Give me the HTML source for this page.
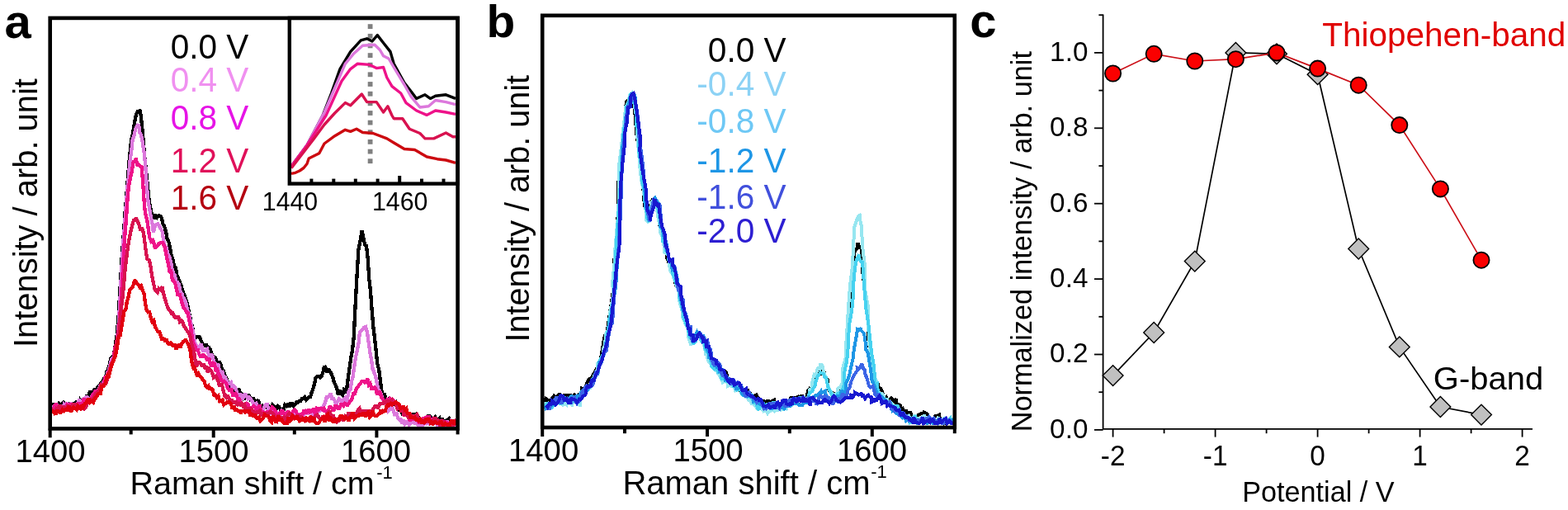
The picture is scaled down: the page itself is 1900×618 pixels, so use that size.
<!DOCTYPE html>
<html lang="en">
<head>
<meta charset="utf-8">
<title>Raman spectra figure</title>
<style>
html,body{margin:0;padding:0;background:#fff;}
body{width:1900px;height:618px;overflow:hidden;}
svg{display:block;font-family:'Liberation Sans', Arial, Helvetica, sans-serif;}
</style>
</head>
<body>
<svg width="1900" height="618" viewBox="0 0 1900 618">
<rect x="0" y="0" width="1900" height="618" fill="#ffffff"/>
<clipPath id="clipA"><rect x="60.7" y="21.9" width="493.90000000000003" height="497.5"/></clipPath>
<g clip-path="url(#clipA)" fill="none" stroke-linejoin="miter" stroke-miterlimit="2" stroke-width="4.3" shape-rendering="crispEdges">
<path d="M59.8 491.4L61.5 490.5L63.2 492.0L64.9 489.0L66.6 493.5L68.8 491.9L70.0 493.5L71.7 489.0L73.4 490.5L75.1 489.0L76.8 487.5L78.8 490.4L80.2 496.5L81.9 487.5L83.6 492.0L85.3 490.5L87.0 489.0L88.8 488.9L90.4 489.0L92.1 487.5L93.8 489.0L95.5 489.0L97.2 484.5L98.8 486.4L100.6 490.5L102.3 490.5L104.0 486.0L105.7 478.5L106.8 481.4L109.1 474.0L110.8 480.0L112.5 475.5L114.2 472.5L116.8 472.1L119.3 468.0L121.0 466.5L122.7 463.5L124.8 461.8L126.1 459.0L127.8 459.0L129.5 450.0L130.8 448.9L132.9 441.0L134.6 433.5L136.8 433.0L138.0 429.0L139.7 418.5L141.8 405.0L143.8 380.0L144.8 361.5L146.5 333.0L147.8 310.0L149.9 282.0L151.6 256.5L152.8 243.0L155.0 214.5L156.7 193.5L159.2 168.6L160.1 166.5L161.8 156.0L164.0 142.7L165.2 138.0L166.9 135.0L168.6 135.0L169.8 133.0L172.0 151.5L173.7 171.0L175.4 191.0L177.1 207.0L178.8 225.0L180.5 241.5L181.8 249.5L183.9 259.5L185.1 265.7L187.3 259.5L189.0 265.5L190.7 262.5L192.4 261.0L194.8 262.5L195.8 264.0L197.5 271.5L199.2 274.5L201.3 282.0L202.6 289.5L204.3 292.5L206.0 300.0L207.7 310.5L209.4 314.0L211.1 322.5L212.8 324.0L214.2 333.0L216.2 337.5L217.9 342.0L219.6 346.5L221.3 352.5L223.0 357.0L224.0 359.0L226.4 366.0L228.1 373.5L230.4 384.8L231.5 391.5L233.2 396.0L235.3 410.7L236.6 409.5L238.3 408.0L240.0 408.0L241.7 408.0L243.4 412.5L245.0 415.5L246.8 418.5L248.5 418.5L250.2 418.5L251.9 421.5L253.6 421.5L254.8 423.6L257.0 430.5L258.7 432.0L261.2 433.3L262.1 436.5L263.8 442.5L265.5 438.0L267.2 441.0L268.9 447.0L270.8 449.5L272.3 454.5L274.0 457.5L275.7 462.0L277.4 463.5L279.0 465.7L280.8 472.5L282.5 469.5L284.2 472.5L285.9 474.0L287.6 477.0L289.3 471.0L291.0 477.0L292.0 475.4L294.4 481.5L296.1 484.5L297.8 478.5L299.5 481.5L301.2 478.5L302.9 481.5L304.6 486.0L306.3 481.5L308.2 485.0L308.8 489.4L309.7 486.0L311.4 486.0L313.1 484.5L314.8 493.5L316.5 495.0L318.2 492.0L319.9 493.5L321.6 493.5L323.3 493.5L325.0 492.0L326.7 493.5L328.4 493.5L330.1 490.5L331.8 492.0L334.1 493.6L335.2 495.0L336.9 492.0L338.6 493.5L340.3 496.5L342.0 498.0L343.7 496.5L345.4 490.5L347.1 492.0L348.8 489.0L350.8 493.6L352.2 489.0L353.9 489.0L355.6 492.0L357.3 490.5L359.3 487.3L360.7 487.5L362.4 486.0L364.1 486.0L365.8 483.0L367.5 483.0L369.2 481.5L370.9 484.5L372.6 483.0L374.3 481.5L376.1 481.0L377.7 475.5L379.4 471.0L381.1 465.0L382.5 457.8L384.5 456.0L386.2 456.0L387.9 457.5L389.6 456.0L391.3 451.5L393.0 444.0L394.2 445.2L396.4 451.5L398.1 447.0L399.8 450.0L401.5 453.0L403.5 457.8L404.9 463.5L406.6 466.5L408.3 471.0L409.8 478.9L411.7 472.5L413.4 477.0L415.1 478.5L416.8 472.5L418.5 474.0L420.3 470.4L421.9 457.5L423.6 445.5L425.3 433.5L427.0 424.5L428.8 407.3L430.4 373.5L432.1 342.0L434.4 302.0L435.5 297.0L437.2 288.0L438.6 279.8L440.6 289.5L442.3 297.0L444.0 297.9L445.7 313.5L447.4 339.0L449.1 354.0L450.8 377.8L452.5 397.5L454.2 411.0L455.9 427.5L457.4 441.0L459.3 448.5L461.0 462.0L462.7 475.5L463.8 478.9L466.1 478.5L467.8 484.5L469.5 484.5L471.2 483.0L472.9 484.5L474.6 487.5L477.2 489.4L479.7 487.5L481.4 495.0L483.1 496.5L484.8 496.5L486.5 499.5L488.2 502.5L489.9 498.0L491.6 502.5L494.0 502.0L495.0 502.5L496.7 504.0L498.4 504.0L500.1 501.0L501.8 504.0L503.5 502.5L505.2 508.5L506.9 505.5L508.6 508.5L510.8 508.3L512.0 513.0L513.7 513.0L515.4 508.5L517.1 508.5L518.8 504.0L520.5 504.0L522.2 505.5L523.9 513.0L525.6 507.0L527.3 505.5L529.0 510.0L530.7 508.5L532.4 507.0L534.1 514.5L535.8 507.0L537.5 511.5L539.2 510.0L540.9 510.0L542.6 508.5L544.3 507.0L546.0 510.0L547.7 513.0L549.4 513.0L551.1 514.5L552.8 512.5" stroke="#000000"/>
<path d="M60.6 493.4L62.3 493.5L64.0 498.0L65.7 495.0L67.4 493.5L69.6 493.9L70.8 492.0L72.5 493.5L74.2 493.5L75.9 496.5L77.6 490.5L79.6 492.4L81.0 487.5L82.7 493.5L84.4 493.5L86.1 487.5L87.8 495.0L89.6 490.9L91.2 493.5L92.9 492.0L94.6 487.5L96.3 484.5L98.0 487.5L99.6 488.4L101.4 483.0L103.1 483.0L104.8 480.0L106.5 483.0L107.6 483.4L109.9 484.5L111.6 480.0L113.3 480.0L115.0 477.0L117.6 473.7L120.1 471.0L121.8 466.5L123.5 469.5L125.6 463.0L126.9 465.0L128.6 459.0L130.3 451.5L131.6 449.5L133.7 441.0L135.4 435.0L137.6 433.0L138.8 426.0L140.5 420.0L142.6 405.0L143.9 390.0L145.6 360.0L147.3 327.0L149.6 290.0L150.7 277.5L152.4 253.5L154.6 225.0L155.8 214.5L157.5 195.0L159.2 183.0L160.6 170.0L162.6 163.5L164.3 156.0L166.0 153.0L168.1 150.8L169.4 160.5L171.1 163.5L172.8 172.5L174.6 184.8L176.2 199.5L177.9 226.5L179.4 243.0L181.3 253.5L183.0 264.0L184.7 271.5L185.9 282.0L188.1 273.0L189.1 272.0L191.5 271.5L193.2 274.5L195.6 278.7L196.6 280.5L198.3 292.5L200.0 298.5L201.7 300.0L203.6 308.0L205.1 310.5L206.8 316.5L208.5 325.5L210.2 331.5L211.6 333.0L213.6 342.0L215.3 342.0L217.0 345.0L218.7 354.0L220.4 355.5L221.6 360.0L223.8 363.0L225.5 367.5L227.2 376.5L228.9 379.5L230.6 388.0L232.3 394.5L234.0 402.0L235.7 414.0L237.6 418.0L239.1 420.0L240.8 423.0L242.5 418.5L244.2 418.5L245.9 426.0L247.6 424.0L249.3 424.5L251.0 423.0L252.7 429.0L254.4 433.5L256.1 429.0L257.6 432.0L259.5 439.5L261.2 441.0L262.9 442.5L264.6 442.5L265.6 447.0L268.0 453.0L269.7 451.5L271.4 457.5L273.1 457.5L275.6 463.0L276.5 465.0L278.2 465.0L279.9 463.5L281.6 471.0L283.3 468.0L285.0 469.5L286.7 474.0L288.4 480.0L289.6 478.0L291.8 478.5L293.5 484.5L295.2 480.0L296.9 477.0L298.6 480.0L300.3 483.0L302.0 481.5L303.7 483.0L305.4 486.0L307.1 489.0L309.0 490.0L310.5 489.0L312.2 495.0L313.9 498.0L315.6 496.5L317.3 496.5L319.0 496.5L320.7 492.0L322.4 490.5L324.1 490.5L325.8 499.5L327.5 501.0L329.6 499.0L330.9 496.5L332.6 499.5L334.3 499.5L336.0 502.5L337.7 499.5L339.4 504.0L341.1 498.0L342.8 499.5L344.5 502.5L346.2 505.5L347.9 504.0L349.6 504.0L351.6 501.5L353.0 507.0L354.7 501.0L356.4 502.5L358.1 505.5L359.8 505.5L361.5 501.0L363.2 504.0L364.9 504.0L366.6 502.5L368.3 502.5L370.0 499.5L371.7 501.0L373.4 501.0L375.1 496.5L376.8 499.5L378.5 504.0L380.2 504.0L381.9 502.5L383.6 499.5L384.6 499.0L387.0 498.0L388.7 495.0L390.4 496.5L391.6 492.0L393.8 489.0L395.5 481.5L397.2 481.5L399.2 478.9L400.6 477.0L402.3 483.0L404.0 483.0L405.7 486.0L407.4 490.5L408.6 487.3L410.8 483.0L412.5 484.5L414.2 487.5L415.9 484.5L417.6 483.0L419.0 487.3L421.0 483.0L422.7 474.0L424.4 472.5L426.1 462.0L427.4 457.8L429.5 442.5L431.2 432.0L432.9 424.5L434.6 415.5L435.9 403.0L438.0 400.5L439.7 399.0L440.9 396.8L443.1 396.0L445.1 403.0L446.5 414.0L448.2 426.0L449.9 435.0L451.6 447.0L452.7 449.4L455.0 456.0L456.7 463.5L459.0 474.6L460.1 474.0L461.8 477.0L463.5 483.0L465.2 486.0L467.4 489.4L468.6 493.5L470.3 498.0L472.0 496.5L473.7 493.5L475.4 493.5L478.0 502.0L480.5 501.0L482.2 507.0L483.9 508.5L485.6 508.5L487.3 513.0L489.0 508.5L490.6 514.0L492.4 513.0L494.1 510.0L495.8 514.5L497.5 513.0L499.2 510.0L500.9 508.5L502.6 513.0L504.3 513.0L506.0 514.5L507.7 514.5L509.4 514.5L511.1 514.5L512.8 514.5L514.5 511.5L516.2 513.0L517.9 510.0L519.6 513.0L521.3 511.5L523.0 514.5L524.7 510.0L526.4 510.0L528.1 510.0L529.8 514.5L531.5 513.0L533.2 514.5L534.9 514.5L536.6 513.0L538.3 514.5L540.0 514.5L541.7 510.0L543.4 514.5L545.1 514.5L546.8 510.0L548.5 511.5L550.2 513.0L551.9 514.5L553.6 512.5" stroke="#dc78dc"/>
<path d="M61.0 494.6L62.7 496.5L64.4 496.5L66.1 492.0L67.8 489.0L70.0 495.1L71.2 492.0L72.9 496.5L74.6 496.5L76.3 496.5L78.0 495.0L80.0 493.6L81.4 490.5L83.1 492.0L84.8 489.0L86.5 495.0L88.2 489.0L90.0 492.1L91.6 489.0L93.3 492.0L95.0 489.0L96.7 489.0L98.4 493.5L100.0 489.6L101.8 483.0L103.5 489.0L105.2 487.5L106.9 483.0L108.0 484.6L110.3 487.5L112.0 478.5L113.7 477.0L115.4 474.0L118.0 474.7L120.5 471.0L122.2 466.5L123.9 468.0L126.0 463.8L127.3 456.0L129.0 459.0L130.7 453.0L132.0 449.9L134.1 444.0L135.8 439.5L138.0 433.0L139.2 421.5L140.9 417.0L143.0 405.0L144.3 396.0L146.0 373.5L147.0 360.0L149.4 316.5L151.0 290.0L152.8 267.0L155.0 235.0L156.2 225.0L157.9 216.0L159.6 208.5L162.0 194.5L163.0 196.5L164.7 192.0L166.4 199.5L168.1 199.5L169.8 201.0L171.7 202.6L173.2 222.0L175.0 249.5L176.6 261.0L178.3 267.0L180.0 279.0L181.4 288.4L183.4 292.5L185.1 291.0L186.8 295.5L188.0 301.0L190.2 298.5L192.8 295.0L195.3 294.0L197.0 294.0L199.2 298.0L200.4 303.0L202.5 314.0L203.8 319.5L205.5 328.5L207.2 328.5L208.9 339.0L210.0 340.0L212.3 343.5L214.0 351.0L215.7 358.5L217.4 355.5L220.0 365.0L222.5 373.5L224.2 375.0L225.9 378.0L227.6 379.5L230.0 392.0L231.0 396.0L232.7 408.0L234.4 415.5L236.1 418.5L238.0 425.0L239.5 423.0L241.2 429.0L242.9 432.0L244.6 432.0L246.3 429.0L248.0 432.0L249.7 433.5L251.4 436.5L253.1 433.5L254.8 441.0L256.5 444.0L258.0 440.0L259.9 441.0L261.6 450.0L263.3 448.5L265.0 456.0L266.0 455.0L268.4 460.5L270.1 463.5L271.8 462.0L273.5 463.5L276.0 470.0L276.9 471.0L278.6 474.0L280.3 471.0L282.0 478.5L283.7 478.5L285.4 477.0L287.1 480.0L288.8 486.0L290.0 484.0L292.2 487.5L293.9 490.5L295.6 492.0L297.3 492.0L299.0 489.0L300.7 490.5L302.4 495.0L304.1 495.0L305.8 493.5L307.5 492.0L309.4 494.0L310.9 496.5L312.6 495.0L314.3 490.5L316.0 496.5L317.7 499.5L319.4 499.5L321.1 501.0L322.8 501.0L324.5 498.0L326.2 501.0L327.9 498.0L329.6 493.5L331.3 495.0L333.0 496.5L334.7 502.5L336.4 502.5L338.1 501.0L339.8 501.0L341.5 496.5L343.2 499.5L344.9 502.5L346.6 501.0L348.3 499.5L350.0 499.5L352.0 502.0L353.4 502.5L355.1 498.0L356.8 496.5L358.5 498.0L360.2 502.5L361.9 504.0L363.6 502.5L365.3 505.5L367.0 501.0L368.7 496.5L370.4 499.5L372.1 499.5L373.8 496.5L375.5 499.5L377.2 498.0L378.9 496.5L380.6 496.5L382.3 502.5L384.0 495.0L385.7 496.5L387.4 495.0L389.1 495.0L390.8 496.5L392.5 495.0L394.0 497.8L395.9 498.0L397.6 498.0L399.3 493.5L401.0 493.5L402.7 495.0L404.4 498.0L406.1 492.0L407.8 492.0L409.5 495.0L411.2 495.0L412.9 490.5L414.6 490.5L416.3 492.0L418.0 489.0L419.7 490.5L421.4 490.5L423.6 487.3L424.8 486.0L426.5 483.0L428.2 477.0L429.9 477.0L432.0 470.4L433.3 469.5L435.0 466.5L436.7 465.0L438.4 462.0L440.1 462.0L441.8 463.5L443.8 462.9L445.2 459.0L446.9 466.5L448.6 465.0L450.3 471.0L452.0 471.0L453.7 469.5L455.2 470.4L457.1 478.5L458.8 475.5L460.5 475.5L462.2 481.5L463.6 483.0L465.6 486.0L467.3 487.5L469.0 484.5L470.7 486.0L472.4 483.0L474.1 484.5L475.8 484.5L478.4 487.3L480.9 489.0L482.6 495.0L484.3 492.0L486.0 493.5L487.7 495.0L489.4 504.0L491.0 502.0L492.8 499.5L494.5 505.5L496.2 508.5L497.9 508.5L499.6 505.5L501.3 508.5L503.0 505.5L504.7 504.0L506.4 510.0L508.1 513.0L509.8 508.5L512.0 510.4L513.2 507.0L514.9 507.0L516.6 505.5L518.3 505.5L520.0 505.5L521.7 511.5L523.4 508.5L525.1 507.0L526.8 507.0L528.5 508.5L530.2 513.0L531.9 513.0L533.6 508.5L535.3 511.5L537.0 511.5L538.7 511.5L540.4 511.5L542.1 513.0L543.8 514.5L545.5 513.0L547.2 513.0L548.9 511.5L550.6 513.0L552.3 511.5L554.0 512.0" stroke="#ee1289"/>
<path d="M61.6 495.8L63.3 496.5L65.0 498.0L66.7 499.5L68.4 495.0L70.6 496.3L71.8 492.0L73.5 492.0L75.2 496.5L76.9 492.0L78.6 495.0L80.6 494.8L82.0 492.0L83.7 493.5L85.4 496.5L87.1 495.0L88.8 489.0L90.6 493.3L92.2 489.0L93.9 495.0L95.6 495.0L97.3 495.0L99.0 495.0L100.6 490.8L102.4 495.0L104.1 493.5L105.8 486.0L107.5 489.0L108.6 485.8L110.9 486.0L112.6 483.0L114.3 480.0L116.0 477.0L118.6 475.6L121.1 469.5L122.8 465.0L124.5 469.5L126.6 464.5L127.9 466.5L129.6 460.5L131.3 454.5L132.6 450.2L134.7 441.0L136.4 439.5L138.6 433.0L139.8 423.0L141.5 412.5L143.6 405.0L144.9 391.5L146.6 376.5L148.6 360.0L150.0 345.0L151.7 325.5L153.6 310.0L155.1 298.5L156.8 288.0L158.6 280.0L160.2 273.0L161.9 267.0L163.6 267.0L164.9 264.0L167.0 268.5L168.7 273.0L170.4 279.0L172.1 276.0L173.9 282.0L175.5 294.0L177.2 307.5L178.6 314.0L180.6 315.0L182.0 320.0L184.0 333.0L185.7 342.0L187.4 349.5L188.6 352.0L190.8 354.0L192.5 349.5L194.2 351.0L196.6 347.5L197.6 354.0L199.3 360.0L201.0 366.0L203.1 372.0L204.4 375.0L206.1 376.5L207.8 379.5L209.5 379.5L211.2 384.0L212.8 385.0L214.6 384.0L216.3 384.0L218.0 390.0L219.7 388.5L221.4 390.0L222.6 394.5L224.8 397.5L226.5 400.5L229.0 404.0L229.9 405.0L231.6 414.0L233.3 421.5L235.0 426.0L237.1 440.0L238.4 444.0L240.1 439.5L241.8 439.5L243.5 441.0L245.2 444.0L246.9 441.0L248.4 446.0L250.3 445.5L252.0 451.5L253.7 447.0L255.4 448.5L257.1 451.5L258.8 457.5L261.4 456.0L263.9 460.5L265.6 466.5L267.3 466.5L269.0 466.5L271.1 475.0L272.4 480.0L274.1 481.5L275.8 478.5L277.5 483.0L279.2 487.5L280.9 484.5L282.6 487.5L284.3 487.5L286.0 487.5L287.3 491.6L289.4 489.0L291.1 490.5L292.8 489.0L294.5 492.0L296.2 490.5L297.9 496.5L299.6 498.0L301.3 493.5L303.0 499.5L304.7 496.5L306.4 498.0L308.1 501.0L310.0 501.0L311.5 499.5L313.2 499.5L314.9 498.0L316.6 504.0L318.3 499.5L320.0 504.0L321.7 501.0L323.4 501.0L325.1 501.0L326.8 499.5L328.5 499.5L330.2 501.0L331.9 502.5L333.6 508.5L335.3 510.0L337.0 502.5L338.7 505.5L340.6 506.0L342.1 507.0L343.8 505.5L345.5 510.0L347.2 507.0L348.9 502.5L350.6 501.0L352.3 502.5L354.0 508.5L355.7 504.0L357.4 505.5L359.1 504.0L360.8 504.0L362.5 508.5L364.2 504.0L365.9 507.0L367.6 508.5L369.3 510.0L371.0 507.0L372.7 510.0L374.4 507.0L376.1 507.0L377.8 507.0L379.5 508.5L380.6 506.0L382.9 504.0L384.6 502.5L386.3 505.5L388.0 508.5L389.7 507.0L391.4 504.0L393.1 510.0L394.8 505.5L396.5 501.0L398.2 499.5L399.9 499.5L401.6 505.5L403.3 502.5L405.0 507.0L406.7 508.5L408.4 511.5L410.1 510.0L411.8 505.5L413.5 507.0L415.2 508.5L416.9 508.5L418.6 504.0L420.6 505.0L422.0 501.0L423.7 501.0L425.4 507.0L427.1 504.0L428.8 501.0L430.5 504.0L432.2 501.0L433.9 496.5L435.6 495.0L436.9 500.0L439.0 496.5L440.7 502.5L442.4 496.5L444.1 501.0L445.8 501.0L447.4 496.5L449.2 501.0L450.9 498.0L452.6 495.0L454.3 492.0L456.0 492.0L457.7 495.0L459.4 492.0L461.1 487.5L462.1 489.4L464.5 489.0L466.2 486.0L467.9 489.0L469.6 484.5L471.3 490.5L473.0 486.0L474.7 484.5L476.4 489.0L479.0 489.0L481.5 495.0L483.2 493.5L484.9 495.0L486.6 499.5L488.3 496.5L490.0 502.5L491.6 502.0L493.4 502.5L495.1 507.0L496.8 501.0L498.5 507.0L500.2 502.5L501.9 508.5L503.6 504.0L505.3 502.5L507.0 507.0L508.7 511.5L510.4 508.5L512.6 510.0L513.8 511.5L515.5 508.5L517.2 510.0L518.9 505.5L520.6 508.5L522.3 513.0L524.0 510.0L525.7 508.5L527.4 505.5L529.1 511.5L530.8 510.0L532.5 514.5L534.2 514.5L535.9 508.5L537.6 514.5L539.3 514.5L541.0 514.5L542.7 514.5L544.4 514.5L546.1 514.5L547.8 514.5L549.5 514.5L551.2 511.5L552.9 508.5L554.6 513.0" stroke="#d8124f"/>
<path d="M62.2 497.8L63.9 498.0L65.6 499.5L67.3 502.5L69.0 498.0L71.2 498.3L72.4 499.5L74.1 499.5L75.8 496.5L77.5 498.0L79.2 496.5L81.2 496.8L82.6 493.5L84.3 493.5L86.0 499.5L87.7 495.0L89.4 493.5L91.2 495.3L92.8 496.5L94.5 492.0L96.2 493.5L97.9 495.0L99.6 490.5L101.2 492.8L103.0 489.0L104.7 487.5L106.4 484.5L108.1 484.5L109.2 487.8L111.5 486.0L113.2 487.5L114.9 483.0L116.6 481.5L119.2 477.2L121.7 477.0L123.4 468.0L125.1 468.0L127.2 465.7L128.5 460.5L130.2 454.5L131.9 456.0L133.2 450.8L135.3 442.5L137.0 438.0L139.2 433.0L140.4 429.0L142.1 420.0L143.8 408.0L145.5 406.5L147.0 397.7L148.9 387.0L150.6 376.5L152.3 375.0L154.0 364.5L155.1 362.0L157.4 351.0L159.1 349.5L160.8 348.0L163.2 339.4L164.2 340.5L165.9 343.5L167.6 345.0L169.3 348.0L171.0 346.5L172.9 352.4L174.4 355.5L176.1 367.5L177.8 376.5L179.4 378.3L181.2 378.0L182.9 385.5L184.6 390.0L186.3 388.5L188.0 396.0L189.1 397.7L191.4 402.0L193.1 402.0L194.8 406.5L196.5 412.5L198.2 409.5L200.4 413.9L201.6 411.0L203.3 415.5L205.0 417.0L206.7 415.5L208.4 417.0L210.2 420.4L211.8 417.0L213.5 423.0L215.2 420.0L216.9 417.0L218.6 421.5L219.9 417.0L222.0 414.0L223.7 412.5L225.4 412.5L228.0 417.0L230.5 424.5L232.2 438.0L234.4 446.0L235.6 445.5L237.3 450.0L239.0 456.0L240.7 453.0L242.5 456.0L244.1 457.5L245.8 460.5L247.5 462.0L249.2 468.0L250.9 469.5L252.6 468.0L254.3 472.5L255.5 470.6L257.7 472.5L259.4 478.5L261.1 478.5L262.8 481.5L264.5 480.0L266.2 486.0L268.5 485.0L269.6 484.5L271.3 490.5L273.0 489.0L274.7 487.5L276.4 487.5L278.1 487.5L279.8 489.0L281.5 495.0L283.2 492.0L284.6 496.5L286.6 496.5L288.3 498.0L290.0 498.0L291.7 501.0L293.4 498.0L295.1 498.0L296.8 499.5L298.5 498.0L300.2 498.0L301.9 498.0L303.6 504.0L305.3 501.0L307.0 505.5L308.7 502.5L310.6 506.0L312.1 507.0L313.8 505.5L315.5 510.0L317.2 508.5L318.9 507.0L320.6 502.5L322.3 504.0L324.0 504.0L325.7 505.5L327.4 510.0L329.1 511.5L330.8 504.0L332.5 508.5L334.2 511.5L335.9 508.5L337.6 504.0L339.3 510.0L341.0 507.0L342.7 511.5L344.4 513.0L346.1 513.0L347.8 513.0L349.5 505.5L351.2 510.0L353.2 508.3L354.6 504.0L356.3 505.5L358.0 508.5L359.7 504.0L361.4 507.0L363.1 510.0L364.8 508.5L366.5 508.5L368.2 505.5L369.9 511.5L371.6 507.0L373.3 508.5L375.0 510.0L376.7 504.0L378.4 511.5L380.1 505.5L381.8 511.5L383.5 513.0L385.2 513.0L386.9 511.5L388.6 508.5L390.3 507.0L392.0 505.5L393.7 511.5L395.4 504.0L397.1 502.5L398.8 510.0L401.2 507.0L402.2 508.5L403.9 511.5L405.6 508.5L407.3 510.0L409.0 507.0L410.7 510.0L412.4 504.0L414.1 504.0L415.8 505.5L417.5 508.5L419.2 505.5L420.9 507.0L422.6 510.0L424.3 505.5L426.0 502.5L427.7 499.5L429.4 507.0L431.1 505.5L432.8 504.0L434.5 504.0L436.2 501.0L437.5 504.0L439.6 501.0L441.3 501.0L443.0 505.5L444.7 501.0L446.4 499.5L448.1 505.5L449.8 504.0L451.5 498.0L453.2 502.5L454.9 504.0L456.6 504.0L458.5 502.0L460.0 501.0L461.7 496.5L463.4 499.5L465.1 498.0L466.8 498.0L468.5 492.0L470.2 490.5L471.2 491.5L473.6 489.0L475.3 490.5L477.0 489.0L479.6 487.3L482.1 489.0L483.8 490.5L485.5 495.0L488.0 493.6L488.9 492.0L490.6 496.5L492.3 495.0L494.0 502.5L495.7 499.5L497.4 505.5L499.1 505.5L500.6 506.0L502.5 505.5L504.2 508.5L505.9 508.5L507.6 510.0L509.3 508.5L511.0 513.0L512.7 508.5L514.4 513.0L516.1 507.0L517.8 510.0L519.5 507.0L521.6 512.5L522.9 511.5L524.6 514.5L526.3 511.5L528.0 511.5L529.7 513.0L531.4 513.0L533.1 511.5L534.8 511.5L536.5 514.5L538.2 514.5L539.9 513.0L541.6 514.5L543.3 514.5L545.0 514.5L546.7 510.0L548.4 510.0L550.1 514.5L551.8 511.5L553.5 510.0L555.2 514.0" stroke="#e2000f"/>
</g>
<rect x="350.8" y="21.9" width="203.8" height="200.7" fill="#fff"/>
<clipPath id="clipI"><rect x="350.8" y="21.9" width="203.8" height="200.7"/></clipPath>
<g fill="#808080">
<rect x="445.7" y="29.2" width="5.8" height="5.8"/>
<rect x="445.7" y="40.9" width="5.8" height="5.8"/>
<rect x="445.7" y="52.5" width="5.8" height="5.8"/>
<rect x="445.7" y="64.2" width="5.8" height="5.8"/>
<rect x="445.7" y="75.8" width="5.8" height="5.8"/>
<rect x="445.7" y="87.4" width="5.8" height="5.8"/>
<rect x="445.7" y="99.1" width="5.8" height="5.8"/>
<rect x="445.7" y="110.8" width="5.8" height="5.8"/>
<rect x="445.7" y="122.4" width="5.8" height="5.8"/>
<rect x="445.7" y="134.1" width="5.8" height="5.8"/>
<rect x="445.7" y="145.7" width="5.8" height="5.8"/>
<rect x="445.7" y="157.3" width="5.8" height="5.8"/>
<rect x="445.7" y="169.0" width="5.8" height="5.8"/>
<rect x="445.7" y="180.7" width="5.8" height="5.8"/>
<rect x="445.7" y="192.3" width="5.8" height="5.8"/>
</g>
<g clip-path="url(#clipI)" fill="none" stroke-linejoin="round" stroke-width="3.4">
<path d="M353.0 201.5 L372.0 176.0 L391.0 140.0 L401.5 113.0 L412.0 83.6 L424.7 62.6 L437.3 48.9 L444.6 46.8 L451.0 50.0 L457.3 42.6 L464.6 52.0 L473.0 62.6 L477.2 77.3 L489.9 100.4 L498.3 111.0 L504.6 119.4 L515.0 114.8 L521.4 119.4 L527.7 116.2 L540.3 114.8 L552.0 119.4" stroke="#000000"/>
<path d="M353.0 201.5 L372.0 176.0 L393.0 136.0 L418.3 77.3 L428.9 64.7 L439.4 55.2 L454.0 54.2 L460.4 60.5 L464.6 67.8 L471.0 71.0 L477.2 81.5 L489.9 102.5 L498.3 117.3 L508.8 130.0 L519.3 128.8 L527.7 121.5 L540.3 123.6 L552.0 126.7" stroke="#dc78dc"/>
<path d="M353.0 201.5 L372.0 176.0 L395.0 140.0 L414.0 98.3 L424.7 83.6 L433.0 77.3 L447.8 78.4 L456.2 82.6 L464.6 81.5 L468.8 94.0 L475.0 104.7 L485.7 113.0 L492.0 124.6 L504.6 134.0 L517.0 139.4 L527.7 134.0 L540.3 136.0 L552.0 138.3" stroke="#ee1289"/>
<path d="M353.0 203.6 L380.5 167.9 L393.0 151.0 L405.7 137.0 L418.3 124.6 L424.7 127.8 L438.3 114.0 L444.6 123.6 L456.2 123.6 L464.6 136.0 L469.9 128.8 L475.0 140.0 L477.2 143.7 L487.8 143.7 L496.2 156.3 L508.8 161.5 L515.0 167.9 L525.6 167.9 L540.3 161.0 L548.8 165.8 L552.0 165.8" stroke="#d8124f"/>
<path d="M353.0 210.4 L358.0 209.3 L363.0 207.0 L368.0 203.5 L372.0 198.5 L374.2 192.0 L386.8 185.7 L393.0 174.0 L405.7 164.7 L418.3 157.3 L424.7 159.4 L432.0 156.3 L439.4 160.5 L452.0 161.5 L468.8 167.9 L477.2 173.0 L489.9 180.5 L502.5 181.5 L517.2 190.0 L529.8 192.7 L540.3 194.0 L552.0 197.3" stroke="#cc0a10"/>
</g>
<g stroke="#000" stroke-width="4" fill="none">
<line x1="377.4" y1="222.6" x2="377.4" y2="216.6"/>
<line x1="404.3" y1="222.6" x2="404.3" y2="216.6"/>
<line x1="430.8" y1="222.6" x2="430.8" y2="216.6"/>
<line x1="457.6" y1="222.6" x2="457.6" y2="216.6"/>
<line x1="511.0" y1="222.6" x2="511.0" y2="216.6"/>
<line x1="537.5" y1="222.6" x2="537.5" y2="216.6"/>
<line x1="484.2" y1="222.6" x2="484.2" y2="213"/>
<rect x="350.8" y="21.9" width="203.8" height="200.7" stroke-width="4.4"/>
<rect x="60.7" y="21.9" width="493.90000000000003" height="497.5" stroke-width="4.6"/>
<line x1="60.7" y1="519.4" x2="60.7" y2="530.3"/>
<line x1="258.7" y1="519.4" x2="258.7" y2="530.3"/>
<line x1="456.4" y1="519.4" x2="456.4" y2="530.3"/>
<line x1="158.7" y1="519.4" x2="158.7" y2="526.4"/>
<line x1="356.8" y1="519.4" x2="356.8" y2="526.4"/>
<line x1="554.6" y1="519.4" x2="554.6" y2="526.4"/>
</g>
<text transform="translate(61.0 560.2) scale(1 1.02)" font-size="38.3" fill="#000" text-anchor="middle">1400</text>
<text transform="translate(259.0 560.2) scale(1 1.02)" font-size="38.3" fill="#000" text-anchor="middle">1500</text>
<text transform="translate(455.5 560.2) scale(1 1.02)" font-size="38.3" fill="#000" text-anchor="middle">1600</text>
<text transform="translate(351.5 255.4) scale(1 1.02)" font-size="30.3" fill="#000" text-anchor="middle">1440</text>
<text transform="translate(484.7 255.4) scale(1 1.02)" font-size="30.3" fill="#000" text-anchor="middle">1460</text>
<text transform="translate(157.4 599.3) scale(1 1.0)" font-size="39.5" fill="#000">Raman shift / cm<tspan font-size="22" dy="-19.2" dx="2.5">-1</tspan></text>
<text transform="translate(45.4 421.0) rotate(-90) scale(1 1.04)" font-size="39.9" fill="#000">Intensity / arb. unit</text>
<text transform="translate(206.8 71.4) scale(1 1.03)" font-size="40.5" fill="#000000">0.0 V</text>
<text transform="translate(206.8 110.9) scale(1 1.03)" font-size="40.5" fill="#f090f0">0.4 V</text>
<text transform="translate(206.8 156.9) scale(1 1.03)" font-size="40.5" fill="#e614e6">0.8 V</text>
<text transform="translate(206.8 208.5) scale(1 1.03)" font-size="40.5" fill="#e0105a">1.2 V</text>
<text transform="translate(206.8 253.9) scale(1 1.03)" font-size="40.5" fill="#b40010">1.6 V</text>
<text transform="translate(5.5 45.6) scale(1 1.0)" font-size="58" fill="#000" font-weight="bold">a</text>
<clipPath id="clipB"><rect x="657.2" y="18.8" width="499.5999999999999" height="499.2"/></clipPath>
<g clip-path="url(#clipB)" fill="none" stroke-linejoin="miter" stroke-miterlimit="2" stroke-width="4.0" shape-rendering="crispEdges">
<path d="M657.9 489.1L660.5 484.5L661.2 483.0L663.8 484.5L665.1 490.5L668.1 492.0L667.6 484.5L671.1 480.0L673.0 483.0L674.1 487.5L673.8 481.8L677.8 477.0L679.4 481.5L680.9 483.0L683.1 483.0L683.9 478.5L686.4 478.5L686.7 484.5L688.4 478.5L691.3 478.5L693.0 480.0L694.2 480.0L696.1 478.5L698.4 481.5L699.7 481.8L701.9 477.0L702.5 481.5L705.3 477.0L705.4 471.0L708.1 472.5L710.2 471.0L710.2 467.8L712.1 462.0L714.3 459.0L716.5 460.5L717.6 456.0L719.3 453.0L721.4 449.8L722.7 447.0L725.2 441.0L726.5 439.5L728.6 430.5L729.6 424.8L731.6 412.5L732.9 406.5L735.2 405.0L737.0 393.0L739.1 378.0L740.8 367.5L743.2 350.8L744.3 334.5L744.1 315.0L747.5 298.0L748.7 256.5L749.3 220.5L752.5 195.9L754.2 174.0L755.9 160.5L758.0 144.0L758.3 128.8L759.4 123.0L762.7 120.0L763.0 117.0L764.9 113.0L766.5 117.0L768.2 128.8L769.8 141.0L771.2 162.0L774.2 183.0L777.0 206.5L777.4 219.0L779.3 228.0L780.9 248.5L782.7 253.5L784.1 258.0L784.5 266.3L786.7 256.5L789.1 244.5L790.9 241.6L792.2 241.5L795.2 247.5L795.0 245.3L796.8 259.5L799.3 273.3L802.2 277.5L801.8 282.0L804.5 297.0L806.6 301.7L808.0 304.5L808.5 313.5L811.0 319.5L812.7 322.5L814.8 330.0L816.2 333.2L817.4 339.0L818.7 345.0L821.9 346.5L823.5 354.0L824.1 361.3L826.4 372.0L829.2 376.5L830.6 386.1L832.1 394.5L833.8 396.0L834.5 403.7L836.1 403.5L838.8 410.8L839.4 406.5L842.9 406.5L842.7 408.0L846.0 401.9L846.8 403.5L848.4 405.0L849.7 406.5L853.6 410.8L853.6 418.5L855.0 418.5L857.7 420.0L859.9 432.1L862.9 438.0L864.7 439.5L866.6 441.0L866.8 444.0L870.3 441.0L870.7 446.4L873.4 450.0L873.2 453.0L876.1 448.5L877.0 448.5L880.1 451.5L881.8 459.0L883.7 462.0L886.1 460.6L886.7 459.0L887.2 465.0L889.9 469.5L891.0 469.5L892.3 471.0L895.2 468.0L896.6 472.5L897.1 472.5L899.1 472.5L901.3 472.5L902.3 474.8L904.0 478.5L907.1 474.0L909.5 477.0L910.2 480.0L910.7 481.5L913.2 481.8L914.3 480.0L916.3 478.5L918.6 483.0L919.1 489.0L920.8 484.5L923.5 487.5L924.9 484.5L925.6 490.4L927.7 487.5L929.8 486.0L932.0 486.0L934.2 487.5L935.3 486.0L938.3 484.5L938.0 490.5L940.9 492.0L943.3 492.0L945.1 487.8L945.5 489.0L947.7 487.5L950.2 486.0L950.6 486.0L952.5 487.5L953.8 484.5L955.2 487.5L957.2 487.5L958.4 481.5L961.4 481.5L961.2 482.8L964.5 487.5L965.9 481.5L968.9 480.0L968.6 483.0L970.8 480.0L972.9 480.0L975.0 484.5L976.1 486.0L977.9 481.5L978.8 474.0L982.0 469.5L982.1 471.0L985.5 468.0L985.3 463.5L989.2 456.0L990.0 450.0L992.0 453.0L994.1 453.0L994.4 446.0L997.5 451.5L999.1 452.0L1000.0 456.0L1002.8 460.5L1004.1 472.0L1006.3 475.5L1007.5 475.5L1011.4 477.0L1010.9 483.0L1012.6 483.0L1014.4 480.0L1016.0 472.5L1019.2 468.0L1021.2 465.0L1022.1 451.5L1024.3 444.0L1026.7 423.0L1028.0 415.6L1028.5 387.0L1031.3 366.0L1033.0 347.2L1035.1 327.0L1035.1 305.4L1038.2 301.5L1039.6 294.0L1041.2 301.5L1043.5 298.5L1043.8 303.5L1045.1 328.5L1047.4 347.2L1050.5 370.5L1051.6 390.0L1052.4 411.8L1054.1 426.0L1056.7 444.0L1059.2 457.4L1058.4 465.0L1060.9 463.5L1063.4 463.5L1065.2 471.1L1067.3 471.0L1069.0 474.0L1070.5 481.5L1070.7 483.0L1073.8 481.0L1075.3 487.5L1077.3 486.0L1079.4 483.0L1078.8 481.5L1082.2 484.5L1084.5 487.0L1086.2 483.0L1086.7 490.5L1088.8 493.5L1090.2 489.0L1092.0 498.0L1092.8 493.5L1095.4 498.0L1097.6 498.0L1097.3 501.6L1100.3 499.5L1101.4 499.5L1102.9 499.5L1106.1 505.5L1107.1 507.0L1109.9 508.5L1109.6 507.0L1111.4 505.5L1113.0 502.5L1116.6 501.0L1118.5 501.0L1119.3 499.5L1122.0 501.0L1122.8 501.0L1123.9 502.5L1125.7 506.5L1127.6 510.0L1129.9 507.0L1129.9 510.0L1132.3 505.5L1133.4 504.0L1135.4 504.0L1138.4 502.5L1138.8 511.5L1142.1 513.0L1142.0 511.5L1145.3 513.0L1145.1 510.0L1148.4 510.0L1150.4 508.5L1150.4 511.5L1154.1 511.5L1156.0 510.2" stroke="#000000"/>
<path d="M657.3 495.3L660.3 492.0L660.7 489.0L663.9 489.0L665.6 487.5L665.8 492.0L668.3 490.5L671.3 489.0L670.6 484.5L673.3 492.0L674.2 488.0L678.0 486.0L677.9 484.5L680.4 487.5L682.8 492.0L683.0 487.5L686.6 490.5L687.7 484.5L689.2 490.5L691.2 486.0L691.5 489.0L693.2 490.5L695.2 484.5L697.1 486.0L700.3 488.0L701.8 490.5L703.1 490.5L703.3 481.5L705.9 481.5L706.5 480.0L710.2 472.5L710.7 474.0L712.4 466.5L714.7 469.5L715.3 469.5L718.4 462.0L720.1 459.0L720.0 456.0L724.0 447.0L723.8 441.0L726.7 438.0L727.8 439.5L730.5 431.0L731.0 423.0L733.3 417.0L733.8 405.0L737.4 398.8L739.2 390.0L739.2 378.0L743.4 355.8L742.0 343.5L744.4 321.0L745.4 301.9L749.2 258.0L750.3 219.0L750.5 197.6L752.9 178.5L755.0 157.5L756.9 144.0L758.0 129.2L760.7 126.0L762.4 120.0L762.7 115.5L765.4 113.0L768.1 123.0L769.1 129.2L771.2 142.5L771.9 160.5L773.5 178.5L775.9 208.4L777.3 219.0L779.6 229.5L782.2 251.4L782.6 252.0L783.4 267.0L785.8 269.6L787.2 256.5L788.8 252.0L789.5 244.3L793.0 243.0L794.9 244.5L795.1 248.0L797.6 264.0L800.2 276.6L800.2 282.0L802.7 286.5L804.3 294.0L805.0 305.6L808.4 307.5L810.5 312.0L811.0 321.0L812.3 328.5L815.4 333.0L816.6 337.8L818.2 337.5L819.4 345.0L822.5 354.0L823.1 363.0L823.7 366.5L826.9 378.0L827.5 385.5L830.3 391.8L832.1 396.0L834.4 399.0L834.4 409.7L837.4 418.5L837.6 417.0L841.3 414.0L840.7 409.5L842.4 408.0L845.6 407.9L846.0 408.0L849.3 406.5L850.3 412.5L853.0 417.0L854.5 424.5L855.0 429.0L856.1 429.0L858.6 438.3L863.2 442.5L863.6 442.5L866.7 445.5L868.1 450.0L869.6 447.0L870.2 452.6L873.0 457.5L874.7 460.5L875.6 463.5L878.2 462.0L878.3 462.0L881.8 463.5L881.7 468.0L884.0 466.8L887.1 466.5L887.3 468.0L889.3 468.0L890.7 472.5L892.1 471.0L895.5 471.0L896.8 472.5L898.6 472.5L900.3 475.5L900.3 478.5L903.2 481.0L904.7 481.5L906.9 481.5L907.0 484.5L909.4 486.0L911.6 490.5L912.3 488.0L915.2 492.0L917.5 495.0L918.5 493.5L919.4 495.0L922.4 495.0L923.5 496.5L926.2 499.5L925.2 496.6L927.7 496.5L930.1 501.0L932.7 498.0L932.7 499.5L934.5 496.5L936.1 495.0L938.4 498.0L941.4 495.0L941.7 498.0L944.6 494.0L944.6 490.5L946.4 496.5L949.5 495.0L950.2 493.5L953.0 495.0L955.0 489.0L955.2 490.5L956.4 487.5L959.9 492.0L960.0 489.0L962.0 489.0L963.1 486.0L966.7 486.0L967.4 483.0L968.5 486.0L970.0 483.0L973.8 481.5L974.9 489.0L975.8 486.0L978.7 481.5L980.5 478.5L981.0 472.5L983.8 471.0L983.6 466.2L986.4 454.5L988.2 456.0L990.7 446.4L990.5 445.5L993.5 447.0L993.8 442.0L996.4 442.5L997.6 448.6L1000.3 456.0L1002.7 465.0L1004.7 470.6L1006.5 474.0L1009.6 478.5L1010.0 477.0L1011.9 482.8L1013.4 481.5L1015.4 471.0L1017.3 469.5L1018.5 469.5L1021.3 461.8L1021.4 445.5L1024.8 433.5L1024.9 421.5L1026.2 404.1L1028.0 372.0L1030.2 345.0L1032.8 324.2L1034.3 294.0L1035.2 275.3L1038.4 265.5L1040.0 262.0L1041.7 261.0L1042.3 267.0L1043.6 273.1L1045.7 304.5L1048.4 324.2L1048.4 352.5L1052.0 372.0L1052.4 399.6L1053.4 418.5L1055.0 430.5L1058.2 452.9L1059.3 456.0L1061.6 460.5L1062.5 471.0L1063.1 474.9L1065.4 480.0L1068.0 477.0L1068.6 477.0L1071.0 480.0L1072.7 487.0L1075.3 484.5L1077.6 490.5L1077.3 486.0L1081.0 489.0L1082.4 492.0L1083.1 493.0L1084.2 495.0L1087.4 496.5L1088.8 501.0L1091.2 502.5L1091.1 502.5L1092.3 499.5L1095.3 505.5L1097.7 505.5L1097.9 505.2L1099.2 507.0L1101.5 504.0L1104.0 508.5L1105.0 508.5L1106.7 505.5L1108.4 502.5L1111.2 510.0L1112.1 505.5L1113.1 510.0L1115.7 507.0L1118.2 505.5L1119.8 502.5L1120.4 508.5L1123.2 507.0L1123.3 510.0L1124.2 509.5L1127.2 510.0L1129.6 508.5L1129.9 507.0L1133.4 511.5L1134.3 513.0L1136.8 513.0L1137.1 507.0L1139.9 508.5L1141.6 508.5L1143.8 507.0L1144.6 508.5L1146.9 511.5L1147.1 511.5L1149.7 510.0L1152.0 507.0L1153.9 508.5L1156.3 511.4" stroke="#96e6f0"/>
<path d="M658.7 493.9L662.1 490.5L663.3 492.0L664.5 487.5L666.3 493.5L668.8 495.0L668.4 489.0L670.4 490.5L673.6 484.5L675.5 489.0L675.1 486.6L677.2 484.5L678.9 490.5L680.3 484.5L682.1 481.5L684.1 483.0L687.6 484.5L689.1 483.0L690.2 487.5L692.3 487.5L692.8 487.5L694.5 486.0L698.0 486.0L697.5 486.0L701.5 486.6L702.4 484.5L702.5 478.5L704.2 481.5L706.7 477.0L707.6 472.5L711.5 468.0L712.5 472.6L714.9 468.0L715.8 469.5L717.2 463.5L718.6 457.5L719.9 459.0L722.1 454.6L724.8 451.5L724.8 447.0L726.2 438.0L730.2 430.5L732.1 429.6L732.1 426.0L735.2 420.0L734.9 408.0L737.3 397.5L738.3 385.5L742.2 375.0L744.1 354.7L744.4 342.0L745.8 325.5L746.6 301.0L748.7 267.0L752.1 220.5L752.8 197.2L754.3 178.5L755.9 156.0L759.2 145.5L759.3 129.1L762.4 123.0L763.9 115.5L764.9 112.5L764.9 113.0L768.2 124.5L771.0 129.1L770.6 150.0L774.5 166.5L774.0 183.0L778.5 208.0L777.8 220.5L780.6 229.5L781.8 250.7L783.8 259.5L784.1 264.0L786.8 268.8L787.6 253.5L791.3 250.5L791.3 243.7L793.7 246.0L794.9 243.0L796.2 247.4L798.5 258.0L801.2 275.9L803.3 280.5L803.3 292.5L805.8 294.0L807.5 304.7L809.1 306.0L810.6 316.5L813.4 318.0L815.3 322.5L814.6 330.0L817.4 336.8L819.0 343.5L822.0 345.0L822.9 355.5L823.3 361.5L824.9 365.3L827.7 378.0L828.2 384.0L830.7 390.5L833.7 397.5L835.0 406.5L835.6 408.4L837.5 409.5L840.1 415.6L841.6 415.5L843.4 412.5L843.5 411.0L846.2 406.6L848.4 405.0L849.3 412.5L851.8 415.5L854.7 415.6L853.9 421.5L856.2 426.0L858.7 429.0L861.2 436.9L862.4 444.0L865.6 447.0L867.4 445.5L867.7 442.5L870.5 453.0L870.7 451.2L873.7 451.5L874.5 459.0L876.9 459.0L879.8 459.0L881.2 456.0L881.5 463.5L884.4 460.5L885.5 465.4L887.3 463.5L888.6 468.0L889.6 468.0L891.6 466.5L893.1 472.5L895.6 471.0L896.8 471.0L898.5 477.0L899.8 478.5L903.0 478.5L903.0 479.6L905.4 477.0L906.6 480.0L909.3 481.5L911.4 480.0L913.2 489.0L915.2 486.6L917.2 492.0L918.4 495.0L920.1 496.5L920.3 490.5L923.4 492.0L924.3 490.5L925.2 490.5L928.2 495.2L928.9 489.0L932.5 492.0L932.0 490.5L934.4 489.0L936.9 487.5L937.5 487.5L939.3 487.5L940.8 487.5L942.7 487.5L945.1 492.6L945.5 489.0L949.2 495.0L950.6 496.5L951.4 492.0L953.4 487.5L956.3 489.0L957.4 486.0L959.0 490.5L959.2 490.5L962.0 484.5L964.5 487.6L964.7 490.5L967.8 484.5L969.8 481.5L970.7 481.5L971.2 487.5L974.2 483.0L974.4 487.5L978.1 486.0L978.7 486.0L981.0 475.5L982.2 475.5L984.3 474.0L985.5 470.7L988.2 466.5L988.1 463.5L990.8 455.4L991.9 454.5L994.1 451.5L994.5 452.0L997.6 453.0L999.5 457.1L1001.2 457.5L1003.4 469.5L1006.1 474.1L1007.1 477.0L1009.0 480.0L1011.9 480.0L1011.6 483.3L1015.3 477.0L1017.4 477.0L1017.6 475.5L1020.7 472.5L1022.9 466.4L1022.6 454.5L1025.7 439.5L1026.7 432.0L1027.7 420.6L1028.9 394.5L1032.2 376.5L1034.0 357.3L1034.6 337.5L1036.9 318.6L1038.0 315.0L1040.9 308.0L1040.7 312.0L1044.0 318.0L1045.0 316.8L1046.8 342.0L1047.9 357.3L1049.3 373.5L1052.4 393.0L1054.9 417.1L1056.3 429.0L1058.3 439.5L1060.4 459.4L1060.6 466.5L1063.1 465.0L1063.9 477.0L1065.7 477.1L1068.4 483.0L1068.2 484.5L1070.9 484.5L1073.0 483.0L1073.4 488.0L1076.5 487.5L1077.2 490.5L1079.8 490.5L1080.1 495.0L1082.5 490.5L1083.6 494.0L1085.2 492.0L1087.6 492.0L1089.8 496.5L1092.3 502.5L1092.4 501.0L1094.5 504.0L1097.3 504.0L1099.2 507.0L1100.0 505.8L1102.0 511.5L1103.5 510.0L1104.9 513.0L1106.8 507.0L1108.9 504.0L1109.6 507.0L1112.1 508.5L1112.9 510.0L1113.8 508.5L1115.6 508.5L1117.4 510.0L1120.8 507.0L1121.1 510.0L1124.6 505.5L1124.1 508.5L1127.2 510.0L1128.1 511.5L1130.0 510.0L1132.7 513.0L1134.0 508.5L1134.7 513.0L1137.3 508.5L1138.6 511.5L1140.7 511.5L1141.2 513.0L1143.1 510.0L1146.6 508.5L1148.1 511.5L1148.3 510.0L1151.4 507.0L1153.0 513.0L1154.7 510.0L1155.9 511.6" stroke="#46d2f0"/>
<path d="M660.7 492.6L661.6 495.0L664.7 493.5L664.7 495.0L667.5 492.0L670.0 489.0L670.5 489.0L672.6 492.0L673.5 486.0L674.6 486.0L677.4 485.3L679.9 484.5L680.9 489.0L681.6 487.5L685.4 481.5L685.2 481.5L688.2 487.5L688.9 483.0L690.5 481.5L692.8 480.0L694.1 481.5L695.2 481.5L698.7 480.0L699.6 486.0L700.9 485.3L702.5 478.5L704.1 475.5L705.6 474.0L707.9 477.0L709.4 474.0L712.1 472.5L711.4 471.3L714.5 466.5L715.6 466.5L717.0 466.5L719.8 460.5L722.5 454.5L722.3 453.3L725.3 448.5L725.7 439.5L729.0 438.0L729.9 433.5L731.4 428.3L734.6 424.5L734.0 415.5L737.6 405.0L738.2 396.3L740.8 382.5L741.5 373.5L745.0 353.6L746.2 346.5L747.8 321.0L749.6 300.2L750.7 264.0L753.0 225.0L753.9 196.9L754.6 174.0L757.5 156.0L758.3 142.5L761.5 129.0L763.4 118.5L764.3 121.5L766.2 121.5L768.0 113.0L770.2 120.0L770.2 129.0L771.4 141.0L775.0 165.0L775.1 180.0L779.0 207.6L780.3 217.5L781.7 235.5L782.4 250.1L785.4 252.0L785.8 264.0L786.8 268.2L789.6 253.5L790.6 247.5L791.7 243.1L793.7 240.0L795.5 243.0L798.0 246.8L800.1 262.5L800.3 275.2L802.8 277.5L804.3 286.5L807.4 294.0L808.3 303.9L809.5 306.0L811.0 315.0L812.6 315.0L814.7 327.0L817.9 325.5L820.3 335.8L820.9 339.0L821.3 342.0L823.6 354.0L825.0 363.0L825.4 364.3L828.0 378.0L831.3 381.0L832.5 389.3L834.4 394.5L835.8 405.0L837.4 407.1L839.6 415.5L840.2 414.3L842.9 408.0L843.3 405.0L844.9 402.0L847.6 405.3L848.9 403.5L849.8 411.0L852.6 408.0L855.8 414.3L854.9 418.5L858.8 427.5L859.4 433.5L862.1 435.6L865.6 442.5L866.1 442.5L867.9 442.5L869.0 445.5L872.2 447.0L872.0 449.9L875.5 448.5L877.1 451.5L878.9 459.0L879.0 460.5L882.2 459.0L883.3 457.5L885.8 465.0L886.0 464.1L887.8 460.5L889.4 465.0L892.0 471.0L894.1 471.0L895.4 469.5L896.2 469.5L899.1 469.5L899.0 477.0L900.7 478.5L903.1 477.0L904.5 478.3L906.6 481.5L908.0 478.5L909.1 477.0L912.6 481.5L913.1 486.0L914.4 485.3L916.7 487.5L919.9 484.5L919.6 490.5L922.9 487.5L923.4 489.0L925.2 489.0L926.8 493.5L927.4 493.9L930.9 493.5L933.3 492.0L934.5 496.5L935.0 493.5L937.0 493.5L939.3 489.0L941.2 489.0L941.4 493.5L943.6 493.5L946.9 491.3L947.3 495.0L949.0 493.5L950.3 495.0L951.8 492.0L955.1 490.5L956.8 493.5L957.7 490.5L960.0 489.0L961.8 489.0L964.0 489.0L965.3 486.3L966.1 489.0L967.8 490.5L970.7 490.5L972.5 490.5L973.2 489.0L975.2 484.5L976.3 489.0L979.0 486.0L979.3 489.0L980.8 481.5L984.2 483.0L985.8 480.0L985.7 481.5L989.1 478.5L990.7 478.5L992.1 477.0L992.4 477.0L994.9 474.0L995.7 476.0L999.9 474.0L1000.2 477.5L1002.6 481.5L1003.9 484.5L1005.4 482.5L1008.6 483.0L1010.3 481.5L1011.6 487.5L1013.0 484.5L1014.6 478.5L1017.5 483.0L1019.2 475.5L1020.8 474.0L1024.0 475.6L1024.9 471.0L1024.9 465.0L1028.3 457.5L1029.4 453.8L1030.7 447.0L1033.5 435.0L1034.8 423.5L1035.7 418.5L1038.2 405.0L1039.0 399.0L1041.2 400.0L1043.3 397.5L1043.5 400.5L1047.0 404.2L1048.4 412.5L1049.2 423.5L1051.7 427.5L1053.9 441.0L1055.5 452.1L1056.7 462.0L1057.4 462.0L1061.2 472.2L1062.7 477.0L1063.1 480.0L1064.8 477.0L1067.3 481.5L1067.2 480.0L1071.1 483.0L1072.6 489.0L1072.8 484.5L1075.3 490.0L1078.0 489.0L1078.6 487.5L1080.8 495.0L1081.5 498.0L1084.8 496.5L1085.2 496.0L1086.3 501.0L1089.4 502.5L1091.7 498.0L1091.3 504.0L1094.8 507.0L1094.5 505.5L1097.5 508.5L1098.0 510.0L1101.1 507.0L1101.6 510.0L1104.0 507.0L1107.0 507.0L1106.3 511.5L1108.3 510.0L1111.0 513.0L1113.6 513.0L1113.5 513.0L1116.7 507.0L1118.4 508.5L1119.2 508.5L1120.8 511.5L1122.6 511.5L1123.5 513.0L1126.4 511.5L1128.4 511.0L1130.7 510.0L1131.0 513.0L1132.7 513.0L1133.6 513.0L1136.1 513.0L1137.1 508.5L1139.2 508.5L1141.2 513.0L1142.7 513.0L1146.0 511.5L1147.6 513.0L1147.3 508.5L1149.6 513.0L1150.7 508.5L1152.9 508.5L1156.3 513.0L1158.1 512.0" stroke="#1e96e6"/>
<path d="M661.2 491.5L663.7 493.5L664.1 495.0L665.9 495.0L666.8 489.0L668.7 487.5L671.5 484.5L673.5 487.5L673.5 481.5L676.4 481.5L678.1 484.2L679.9 489.0L680.9 487.5L682.4 483.0L685.1 484.5L686.2 484.5L687.6 483.0L690.1 487.5L692.3 487.5L692.4 483.0L696.0 481.5L696.5 486.0L698.0 487.5L699.1 489.0L703.5 484.2L703.4 483.0L704.7 477.0L706.4 474.0L708.1 471.0L710.4 468.0L711.3 469.5L712.5 470.2L716.3 468.0L718.2 466.5L719.7 462.0L721.1 454.5L721.8 451.5L724.3 452.2L725.3 445.5L728.3 439.5L728.4 438.0L729.6 433.5L732.6 427.2L735.0 424.5L736.4 414.0L738.0 403.5L738.9 395.2L742.1 391.5L743.4 372.0L744.2 352.8L746.2 342.0L747.1 322.5L749.8 299.5L751.7 264.0L753.0 228.0L753.9 196.6L756.1 175.5L757.6 159.0L759.4 139.5L760.5 129.0L763.8 129.0L764.0 121.5L767.5 120.0L767.9 113.0L770.1 124.5L771.1 129.0L773.5 147.0L774.4 166.5L777.3 186.0L779.8 207.2L780.1 214.5L782.8 229.5L783.8 249.6L784.6 258.0L787.7 267.0L786.7 267.6L789.4 255.0L790.8 247.5L792.0 242.7L795.5 246.0L798.1 249.0L799.3 246.3L800.7 261.0L801.9 274.6L803.7 277.5L806.7 292.5L806.1 298.5L809.1 303.2L810.4 312.0L811.9 316.5L813.9 315.0L815.0 319.5L817.9 324.0L819.1 335.0L819.7 340.5L821.9 351.0L823.9 354.0L825.8 363.0L827.9 363.3L828.7 375.0L831.9 384.0L833.0 388.3L833.8 394.5L837.1 396.0L837.3 406.0L838.6 412.5L841.1 413.2L843.6 409.5L843.6 409.5L846.8 406.5L847.9 404.2L848.8 409.5L850.5 406.5L853.0 409.5L854.4 413.2L857.1 412.5L858.9 421.5L861.0 423.0L862.7 434.5L864.0 441.0L866.2 442.5L869.0 438.0L870.7 439.5L872.6 442.5L873.2 448.8L875.3 454.5L876.9 454.5L878.4 456.0L879.8 454.5L881.6 460.5L884.8 462.0L886.2 466.5L887.9 463.0L887.9 466.5L890.0 462.0L892.2 465.0L894.1 463.5L895.3 466.5L898.0 466.5L899.6 474.0L899.5 471.0L902.7 478.5L903.9 481.5L904.4 477.2L907.9 475.5L908.9 480.0L911.2 481.5L911.4 480.0L913.7 481.5L915.2 484.2L917.0 487.5L918.7 486.0L921.7 484.5L923.2 490.5L925.6 495.0L927.1 493.5L928.6 495.0L930.0 492.8L930.4 493.5L932.7 487.5L934.3 492.0L937.0 490.5L937.0 489.0L939.4 489.0L940.5 492.0L944.4 495.0L944.9 493.5L945.9 490.2L949.4 490.5L950.8 487.5L952.5 493.5L953.9 490.5L955.1 486.0L957.5 484.5L959.3 483.0L959.5 487.5L962.3 483.0L963.9 483.0L964.5 485.2L967.2 483.0L968.8 486.0L970.3 481.5L973.1 486.0L973.4 483.0L976.0 484.5L977.9 483.0L979.3 486.0L981.5 481.5L982.2 484.5L985.0 483.0L986.4 487.5L986.7 484.2L989.7 490.5L991.7 487.5L991.9 482.4L995.3 478.5L994.7 481.5L997.7 482.0L999.3 480.0L1001.0 482.6L1002.3 480.0L1005.0 484.5L1006.4 484.6L1009.2 490.5L1011.0 486.0L1012.9 483.0L1015.0 484.8L1016.0 489.0L1017.2 483.0L1019.3 483.0L1020.9 477.0L1024.0 480.2L1024.3 480.0L1026.4 478.5L1027.6 472.5L1029.3 470.3L1031.5 462.0L1033.0 459.0L1033.9 456.6L1037.9 450.0L1039.6 448.3L1038.9 445.5L1042.0 446.0L1044.3 441.0L1046.3 447.0L1047.6 447.9L1048.9 456.0L1049.9 456.6L1052.0 463.5L1053.0 468.0L1054.7 469.6L1057.4 468.0L1059.0 472.5L1060.5 478.7L1062.8 480.0L1064.8 477.0L1065.5 481.5L1067.4 482.9L1070.0 487.5L1069.8 486.0L1072.9 489.0L1073.2 486.0L1074.9 490.0L1078.0 487.5L1079.8 495.0L1081.7 495.0L1081.8 493.5L1083.9 498.0L1086.0 496.0L1087.0 498.0L1089.2 496.5L1089.9 502.5L1092.1 502.5L1095.3 499.5L1095.5 502.5L1098.5 504.0L1099.9 507.0L1102.0 507.0L1102.0 510.0L1104.9 510.0L1106.1 510.0L1109.1 508.5L1110.7 508.5L1110.8 511.5L1112.9 510.0L1114.3 513.0L1117.4 505.5L1118.1 507.0L1120.5 510.0L1122.8 505.5L1124.2 508.5L1125.9 505.5L1127.3 507.0L1128.9 511.0L1129.8 508.5L1131.6 507.0L1133.9 510.0L1136.2 513.0L1138.2 510.0L1139.0 511.5L1141.4 513.0L1143.1 513.0L1143.7 513.0L1145.8 510.0L1147.6 513.0L1147.9 508.5L1151.3 511.5L1152.8 513.0L1153.8 513.0L1156.2 511.5L1159.0 512.0" stroke="#3c64e6"/>
<path d="M661.6 491.1L663.6 493.5L665.5 489.0L666.7 489.0L668.8 490.5L669.2 486.0L671.4 487.5L672.6 489.0L673.4 490.5L676.0 487.5L677.8 483.8L679.1 478.5L680.6 480.0L682.1 480.0L683.8 486.0L685.5 481.5L688.3 487.5L691.0 487.5L691.3 484.5L692.7 483.0L696.1 484.5L697.3 484.5L699.2 487.5L700.2 486.0L702.0 483.8L703.4 484.5L704.6 483.0L706.2 480.0L709.4 478.5L710.7 469.5L713.1 466.5L712.1 469.8L715.7 468.0L717.0 459.0L718.0 462.0L720.0 460.5L721.9 454.5L723.4 451.8L725.9 445.5L726.5 442.5L728.5 438.0L729.7 436.5L731.6 426.8L733.7 421.5L736.2 412.5L736.3 408.0L740.1 394.9L741.4 382.5L742.3 373.5L744.2 352.4L745.4 340.5L747.2 322.5L750.5 299.3L751.0 258.0L752.0 225.0L754.5 196.5L756.9 175.5L756.9 162.0L759.7 148.5L761.4 128.9L763.6 130.5L763.8 118.5L765.8 114.0L767.6 113.0L769.6 121.5L770.9 128.9L773.1 145.5L775.8 165.0L775.4 183.0L778.6 207.1L780.2 216.0L782.4 226.5L783.9 249.5L784.0 253.5L788.0 261.0L787.5 267.4L790.1 256.5L792.7 249.0L792.8 242.5L794.1 243.0L796.1 247.5L797.6 246.2L800.3 264.0L802.2 274.4L803.4 277.5L806.1 285.0L806.5 295.5L808.9 302.9L810.2 310.5L811.3 316.5L814.7 315.0L814.6 321.0L817.2 324.0L819.5 334.7L819.8 342.0L822.1 345.0L825.3 348.0L825.2 355.5L826.0 363.0L828.5 373.5L830.1 381.0L832.3 387.9L833.7 397.5L835.5 397.5L836.4 405.6L840.5 406.5L840.2 412.8L842.4 412.5L844.7 409.5L845.2 406.5L847.9 403.8L850.8 409.5L852.3 408.0L852.3 414.0L856.4 412.8L855.8 420.0L859.1 420.0L859.2 421.5L862.0 434.1L864.1 435.0L867.9 436.5L868.3 441.0L871.3 442.5L871.8 447.0L873.8 448.4L876.2 448.5L877.1 448.5L878.9 454.5L881.5 460.5L881.0 460.5L883.7 463.5L884.9 460.5L886.8 462.6L888.2 459.0L889.6 466.5L892.4 465.0L894.6 463.5L895.5 463.5L896.2 465.0L899.1 472.5L900.3 472.5L901.4 472.5L904.1 471.0L904.7 476.8L907.5 478.5L908.5 478.5L910.5 480.0L913.3 481.5L915.0 483.0L916.2 483.8L918.6 483.0L920.2 486.0L921.5 483.0L923.6 487.5L925.2 492.0L927.2 492.0L927.1 493.5L928.5 492.4L930.8 490.5L933.3 495.0L934.1 493.5L937.2 492.0L938.0 493.5L939.3 493.5L942.1 487.5L942.0 486.0L944.9 492.0L946.6 489.8L948.4 484.5L950.9 487.5L951.8 483.0L952.6 489.0L956.1 490.5L957.3 489.0L959.7 490.5L959.6 486.0L961.6 483.0L964.7 486.0L965.3 484.8L965.9 487.5L967.5 481.5L971.2 487.5L973.0 483.0L973.6 481.5L976.7 484.5L976.0 486.0L979.9 486.0L981.8 492.0L981.4 483.0L984.0 481.5L984.8 481.5L988.0 486.0L988.5 484.5L991.3 489.0L992.0 486.0L993.1 487.5L996.7 487.5L997.5 486.0L999.9 483.0L1000.0 486.0L1002.8 486.0L1005.0 489.0L1007.2 486.0L1009.2 481.5L1010.6 480.0L1013.0 483.0L1013.2 485.0L1015.5 486.0L1018.2 487.5L1020.2 486.0L1021.8 484.5L1023.1 483.3L1024.8 481.5L1025.8 481.5L1027.4 481.5L1030.1 481.5L1031.5 477.0L1032.1 483.0L1035.1 479.0L1035.8 475.5L1039.1 477.4L1040.3 478.5L1043.4 477.0L1043.6 477.0L1044.9 481.5L1045.4 477.4L1048.3 483.0L1051.2 479.0L1052.1 478.5L1052.8 480.0L1055.7 481.3L1055.9 487.5L1059.1 486.0L1060.2 483.0L1062.2 486.0L1063.3 483.0L1065.6 480.0L1068.0 485.4L1068.5 489.0L1071.2 487.5L1073.0 486.0L1073.6 486.0L1075.0 492.0L1077.5 490.5L1078.8 492.0L1079.7 492.0L1083.7 493.5L1085.3 495.0L1085.6 498.0L1086.7 496.5L1089.4 496.5L1092.1 504.0L1093.6 499.5L1095.4 504.0L1096.7 505.5L1097.9 505.5L1100.4 505.5L1101.6 508.2L1104.1 508.5L1103.9 510.0L1107.2 513.0L1107.3 505.5L1109.5 511.5L1110.3 511.5L1113.3 513.0L1115.7 511.5L1117.7 507.0L1118.2 505.5L1119.3 513.0L1121.5 511.5L1123.3 510.0L1126.1 511.5L1126.3 507.0L1128.9 512.0L1129.5 507.0L1132.6 513.0L1134.6 513.0L1134.3 511.5L1137.3 511.5L1138.7 507.0L1140.4 513.0L1143.3 508.5L1143.6 508.5L1146.0 507.0L1147.7 513.0L1149.7 511.5L1150.7 510.0L1153.3 513.0L1153.9 513.0L1156.0 513.0L1158.1 512.4" stroke="#1818d0"/>
</g>
<g stroke="#000" stroke-width="4" fill="none">
<rect x="657.2" y="18.8" width="499.5999999999999" height="499.2" stroke-width="4.6"/>
<line x1="657.2" y1="518.0" x2="657.2" y2="529"/>
<line x1="857.0" y1="518.0" x2="857.0" y2="529"/>
<line x1="1056.8" y1="518.0" x2="1056.8" y2="529"/>
<line x1="757.0" y1="518.0" x2="757.0" y2="525.2"/>
<line x1="956.8" y1="518.0" x2="956.8" y2="525.2"/>
<line x1="1156.8" y1="518.0" x2="1156.8" y2="525.2"/>
</g>
<text transform="translate(658.6 559.2) scale(1 1.02)" font-size="38.3" fill="#000" text-anchor="middle">1400</text>
<text transform="translate(858.0 559.2) scale(1 1.02)" font-size="38.3" fill="#000" text-anchor="middle">1500</text>
<text transform="translate(1056.5 559.2) scale(1 1.02)" font-size="38.3" fill="#000" text-anchor="middle">1600</text>
<text transform="translate(754.4 599.2) scale(1 1.0)" font-size="40.0" fill="#000">Raman shift / cm<tspan font-size="22" dy="-20" dx="0.7">-1</tspan></text>
<text transform="translate(641.3 414.4) rotate(-90) scale(1 1.04)" font-size="39.6" fill="#000">Intensity / arb. unit</text>
<text transform="translate(952.6 75.4) scale(1 1.03)" font-size="40.6" fill="#000000" text-anchor="end">0.0 V</text>
<text transform="translate(952.6 116.2) scale(1 1.03)" font-size="40.6" fill="#8cd2f5" text-anchor="end">-0.4 V</text>
<text transform="translate(952.6 160.8) scale(1 1.03)" font-size="40.6" fill="#6ec8f5" text-anchor="end">-0.8 V</text>
<text transform="translate(952.6 209.2) scale(1 1.03)" font-size="40.6" fill="#1e96e6" text-anchor="end">-1.2 V</text>
<text transform="translate(952.6 253.3) scale(1 1.03)" font-size="40.6" fill="#4150dc" text-anchor="end">-1.6 V</text>
<text transform="translate(952.6 293.7) scale(1 1.03)" font-size="40.6" fill="#2d1ed2" text-anchor="end">-2.0 V</text>
<text transform="translate(589.6 45.0) scale(1 0.985)" font-size="56.8" fill="#000" font-weight="bold">b</text>
<g stroke="#000" stroke-width="1.8" fill="none">
<path d="M1336.6 17.4 V519.8 H1857"/>
<line x1="1336.6" y1="520.9" x2="1326.0" y2="520.9"/>
<line x1="1336.6" y1="475.2" x2="1331.3999999999999" y2="475.2"/>
<line x1="1336.6" y1="429.5" x2="1326.0" y2="429.5"/>
<line x1="1336.6" y1="383.8" x2="1331.3999999999999" y2="383.8"/>
<line x1="1336.6" y1="338.1" x2="1326.0" y2="338.1"/>
<line x1="1336.6" y1="292.4" x2="1331.3999999999999" y2="292.4"/>
<line x1="1336.6" y1="246.7" x2="1326.0" y2="246.7"/>
<line x1="1336.6" y1="201.0" x2="1331.3999999999999" y2="201.0"/>
<line x1="1336.6" y1="155.3" x2="1326.0" y2="155.3"/>
<line x1="1336.6" y1="109.6" x2="1331.3999999999999" y2="109.6"/>
<line x1="1336.6" y1="63.9" x2="1326.0" y2="63.9"/>
<line x1="1336.6" y1="18.2" x2="1331.3999999999999" y2="18.2"/>
<line x1="1348.6" y1="519.8" x2="1348.6" y2="529.5999999999999"/>
<line x1="1410.6" y1="519.8" x2="1410.6" y2="525.1999999999999"/>
<line x1="1472.6" y1="519.8" x2="1472.6" y2="529.5999999999999"/>
<line x1="1534.6" y1="519.8" x2="1534.6" y2="525.1999999999999"/>
<line x1="1596.6" y1="519.8" x2="1596.6" y2="529.5999999999999"/>
<line x1="1658.6" y1="519.8" x2="1658.6" y2="525.1999999999999"/>
<line x1="1720.6" y1="519.8" x2="1720.6" y2="529.5999999999999"/>
<line x1="1782.6" y1="519.8" x2="1782.6" y2="525.1999999999999"/>
<line x1="1844.6" y1="519.8" x2="1844.6" y2="529.5999999999999"/>
</g>
<text transform="translate(1318.4 530.8) scale(1 1.015)" font-size="33.3" fill="#000" text-anchor="end">0.0</text>
<text transform="translate(1318.4 439.4) scale(1 1.015)" font-size="33.3" fill="#000" text-anchor="end">0.2</text>
<text transform="translate(1318.4 347.99999999999994) scale(1 1.015)" font-size="33.3" fill="#000" text-anchor="end">0.4</text>
<text transform="translate(1318.4 256.6) scale(1 1.015)" font-size="33.3" fill="#000" text-anchor="end">0.6</text>
<text transform="translate(1318.4 165.2) scale(1 1.015)" font-size="33.3" fill="#000" text-anchor="end">0.8</text>
<text transform="translate(1318.4 73.8) scale(1 1.015)" font-size="33.3" fill="#000" text-anchor="end">1.0</text>
<text transform="translate(1348.6 563.8) scale(1 1.04)" font-size="33.3" fill="#000" text-anchor="middle">-2</text>
<text transform="translate(1472.6 563.8) scale(1 1.04)" font-size="33.3" fill="#000" text-anchor="middle">-1</text>
<text transform="translate(1596.6 563.8) scale(1 1.04)" font-size="33.3" fill="#000" text-anchor="middle">0</text>
<text transform="translate(1720.6 563.8) scale(1 1.04)" font-size="33.3" fill="#000" text-anchor="middle">1</text>
<text transform="translate(1844.6 563.8) scale(1 1.04)" font-size="33.3" fill="#000" text-anchor="middle">2</text>
<text transform="translate(1597.4 607.9) scale(1 1.04)" font-size="34.2" fill="#000" text-anchor="middle">Potential / V</text>
<text transform="translate(1250.0 523.3) rotate(-90) scale(1 1.04)" font-size="34.3" fill="#000">Normalized intensity / arb. unit</text>
<path d="M1348.6 455.1 L1398.2 403.0 L1447.8 316.6 L1497.4 63.9 L1547.0 65.3 L1596.6 90.2 L1646.2 301.5 L1695.8 420.4 L1745.4 493.0 L1795.0 502.6" stroke="#000" stroke-width="1.7" fill="none"/>
<g stroke="#000" stroke-width="1.4" fill="#c0c0c0">
<path d="M1348.6 442.7 L1361.0 455.1 L1348.6 467.5 L1336.2 455.1 Z"/>
<path d="M1398.2 390.6 L1410.6 403.0 L1398.2 415.4 L1385.8 403.0 Z"/>
<path d="M1447.8 304.2 L1460.2 316.6 L1447.8 329.0 L1435.4 316.6 Z"/>
<path d="M1497.4 51.5 L1509.8 63.9 L1497.4 76.3 L1485.0 63.9 Z"/>
<path d="M1547.0 52.9 L1559.4 65.3 L1547.0 77.7 L1534.6 65.3 Z"/>
<path d="M1596.6 77.8 L1609.0 90.2 L1596.6 102.6 L1584.2 90.2 Z"/>
<path d="M1646.2 289.1 L1658.6 301.5 L1646.2 313.9 L1633.8 301.5 Z"/>
<path d="M1695.8 408.0 L1708.2 420.4 L1695.8 432.8 L1683.4 420.4 Z"/>
<path d="M1745.4 480.6 L1757.8 493.0 L1745.4 505.4 L1733.0 493.0 Z"/>
<path d="M1795.0 490.2 L1807.4 502.6 L1795.0 515.0 L1782.6 502.6 Z"/>
</g>
<path d="M1348.6 89.0 L1398.2 65.3 L1447.8 74.0 L1497.4 71.7 L1547.0 63.9 L1596.6 83.1 L1646.2 103.2 L1695.8 151.6 L1745.4 228.9 L1795.0 315.2" stroke="#cc1018" stroke-width="1.7" fill="none"/>
<g stroke="#000" stroke-width="1.8" fill="#fa0000">
<circle cx="1348.6" cy="89.0" r="9.6"/>
<circle cx="1398.2" cy="65.3" r="9.6"/>
<circle cx="1447.8" cy="74.0" r="9.6"/>
<circle cx="1497.4" cy="71.7" r="9.6"/>
<circle cx="1547.0" cy="63.9" r="9.6"/>
<circle cx="1596.6" cy="83.1" r="9.6"/>
<circle cx="1646.2" cy="103.2" r="9.6"/>
<circle cx="1695.8" cy="151.6" r="9.6"/>
<circle cx="1745.4" cy="228.9" r="9.6"/>
<circle cx="1795.0" cy="315.2" r="9.6"/>
</g>
<text transform="translate(1602.3 56.3) scale(1 0.985)" font-size="40.5" fill="#e00000">Thiopehen-band</text>
<text transform="translate(1736.8 471.5) scale(1 0.97)" font-size="40.0" fill="#000">G-band</text>
<text transform="translate(1175.3 44.9) scale(1 1.0)" font-size="58" fill="#000" font-weight="bold">c</text>
</svg>
</body>
</html>
